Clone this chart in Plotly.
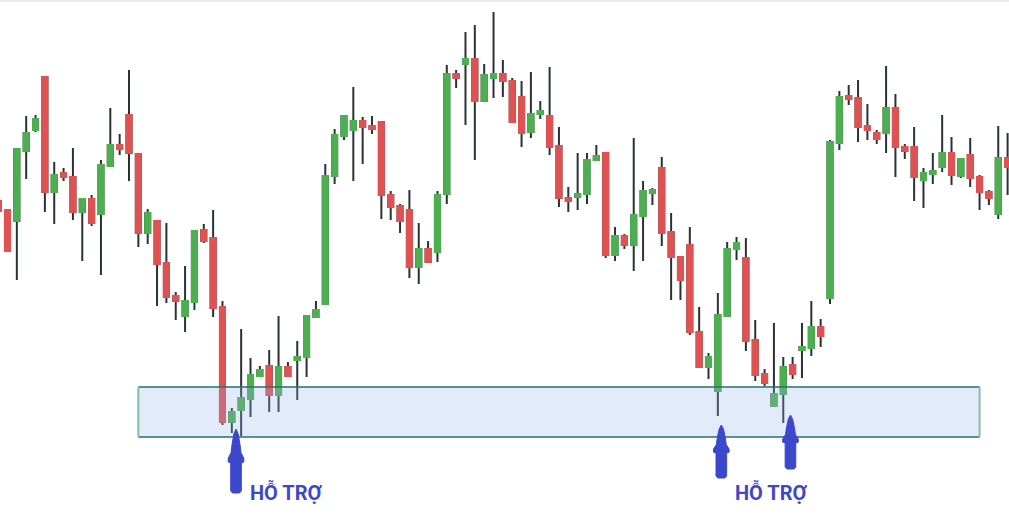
import plotly.graph_objects as go

# ---- data (price units) ----
candle_index = list(range(109))
open_ = [323, 314, 303, 373, 394, 447, 332, 351, 347, 312, 325, 310, 358, 379, 409, 370, 291, 303, 261, 228,
         208, 222, 294, 286, 217, 102, 114, 125, 148, 158, 129, 157, 164, 167, 207, 220, 348, 388, 394, 403,
         398, 402, 329, 318, 314, 257, 275, 272, 330, 450, 460, 465, 423, 446, 450, 443, 427, 392, 410, 408,
         378, 326, 327, 330, 364, 371, 269, 288, 279, 308, 331, 356, 292, 267, 279, 192, 157, 133, 208, 275,
         266, 184, 150, 118, 130, 159, 174, 176, 197, 226, 381, 428, 426, 398, 391, 391, 416, 377, 377, 344,
         350, 357, 371, 348, 369, 347, 332, 310, 366]
high = [323, 314, 376, 408, 409, 447, 362, 356, 376, 326, 329, 364, 416, 390, 454, 371, 315, 303, 301, 232,
        258, 294, 300, 314, 223, 116, 195, 166, 158, 174, 208, 162, 183, 208, 223, 360, 395, 409, 437, 407,
        408, 402, 333, 320, 334, 301, 283, 333, 459, 454, 492, 499, 460, 512, 464, 446, 443, 452, 423, 457,
        397, 337, 371, 371, 379, 371, 297, 290, 386, 343, 336, 367, 311, 268, 297, 217, 171, 231, 282, 287,
        286, 204, 155, 201, 167, 167, 201, 223, 205, 384, 433, 439, 444, 420, 394, 458, 430, 380, 397, 356,
        371, 409, 387, 365, 386, 349, 334, 398, 391]
low = [312, 273, 244, 345, 392, 312, 300, 343, 304, 263, 298, 249, 357, 369, 343, 277, 280, 218, 221, 204,
       192, 214, 281, 207, 99, 91, 88, 107, 147, 112, 112, 147, 124, 147, 207, 220, 340, 384, 343, 360,
       390, 305, 304, 291, 246, 240, 262, 262, 320, 436, 399, 364, 423, 426, 427, 401, 377, 386, 405, 369,
       317, 312, 314, 320, 364, 266, 263, 275, 253, 263, 319, 278, 224, 224, 189, 157, 145, 108, 207, 264,
       173, 143, 138, 118, 101, 145, 146, 168, 177, 220, 374, 419, 382, 384, 380, 371, 347, 365, 323, 316,
       340, 352, 339, 346, 337, 314, 319, 305, 329]
close = [313, 273, 375, 391, 405, 332, 349, 347, 312, 325, 301, 359, 379, 375, 371, 291, 311, 260, 227, 223,
         223, 293, 283, 216, 102, 112, 126, 149, 154, 129, 157, 148, 167, 208, 214, 348, 389, 408, 403, 397,
         395, 329, 317, 303, 257, 275, 262, 329, 450, 446, 465, 423, 449, 450, 443, 402, 391, 410, 413, 377,
         326, 323, 330, 364, 368, 269, 288, 279, 309, 333, 334, 291, 267, 244, 192, 157, 167, 209, 275, 281,
         183, 149, 141, 130, 157, 150, 177, 197, 188, 382, 427, 425, 397, 394, 385, 416, 377, 373, 347, 351,
         353, 371, 349, 365, 346, 332, 326, 366, 357]

support_zone_low = 87
support_zone_high = 137
support_zone_start = 15
support_zone_end = 105

support_label = "HỖ TRỢ"
arrow_x = [25.45, 77.37, 84.77]
arrow_tip = [95, 99, 109]
arrow_len = [64, 53, 54]
arrow_head = [34, 28, 28]
label_x = [30.8, 82.7]
label_y = 32.5

# ---- styling ----
UP = "#4caf50"
DOWN = "#e05252"
WICK = "#2b3236"
BLUE = "#3d47cb"
PX_PER_IDX = 9.347
X_RANGE = [0.198, 108.15]

body_hi = [max(o, c) for o, c in zip(open_, close)]
body_lo = [min(o, c) for o, c in zip(open_, close)]

fig = go.Figure()
# wicks (and body outline, covered afterwards)
fig.add_trace(go.Candlestick(
    x=candle_index, open=open_, high=high, low=low, close=close,
    increasing=dict(line=dict(color=WICK, width=2), fillcolor=WICK),
    decreasing=dict(line=dict(color=WICK, width=2), fillcolor=WICK),
    hoverinfo="skip", showlegend=False,
))
# coloured bodies
fig.add_trace(go.Candlestick(
    x=candle_index, open=open_, high=body_hi, low=body_lo, close=close,
    increasing=dict(line=dict(color=UP, width=2), fillcolor=UP),
    decreasing=dict(line=dict(color=DOWN, width=2), fillcolor=DOWN),
    showlegend=False,
))

shapes = []
# top hairline
shapes.append(dict(type="line", xref="paper", yref="paper", x0=0, x1=1, y0=0.998, y1=0.998,
                   line=dict(color="#ececec", width=2)))
# support zone
shapes.append(dict(type="rect", xref="x", yref="y", x0=support_zone_start, x1=support_zone_end,
                   y0=support_zone_low, y1=support_zone_high, layer="above",
                   fillcolor="rgba(147,178,236,0.26)", line=dict(width=0)))
for yv in (support_zone_low, support_zone_high):
    shapes.append(dict(type="line", xref="x", yref="y", x0=support_zone_start, x1=support_zone_end,
                       y0=yv, y1=yv, layer="above", line=dict(color="#22706c", width=1.6)))
for xv in (support_zone_start, support_zone_end):
    shapes.append(dict(type="line", xref="x", yref="y", x0=xv, x1=xv,
                       y0=support_zone_low, y1=support_zone_high, layer="above",
                       line=dict(color="#7fbcb8", width=2)))


def arrow_path(xc, ytip, length, head):
    hw_shaft = 5.3
    hw_sh = 7.8
    prof = [(0, 0), (2.2, 0.15 * head), (3.8, 0.42 * head), (5.0, 0.7 * head),
            (hw_sh, 0.86 * head), (hw_sh, 0.97 * head), (hw_shaft, head),
            (hw_shaft, length - 2), (3.5, length)]
    right = [(xc + dx / PX_PER_IDX, ytip - dy) for dx, dy in prof]
    left = [(xc - dx / PX_PER_IDX, ytip - dy) for dx, dy in reversed(prof[1:])]
    pts = right + left
    return "M" + " L".join(f"{x:.4f},{y:.2f}" for x, y in pts) + " Z"


for xc, yt, ln, hd in zip(arrow_x, arrow_tip, arrow_len, arrow_head):
    shapes.append(dict(type="path", xref="x", yref="y", path=arrow_path(xc, yt, ln, hd),
                       fillcolor=BLUE, line=dict(color=BLUE, width=1), layer="above"))

annotations = [dict(x=lx, y=label_y, xref="x", yref="y", text=support_label, showarrow=False,
                    font=dict(family="Roboto, sans-serif", size=20,
                              color=BLUE, weight="bold"),
                    xanchor="center", yanchor="middle") for lx in label_x]

fig.update_layout(
    width=1009, height=524,
    margin=dict(l=0, r=0, t=0, b=0),
    paper_bgcolor="white", plot_bgcolor="white",
    xaxis=dict(range=X_RANGE, visible=False, rangeslider=dict(visible=False), fixedrange=True),
    yaxis=dict(range=[0, 524], visible=False, fixedrange=True),
    boxgap=0.46, boxgroupgap=0,
    shapes=shapes, annotations=annotations,
    showlegend=False,
)

fig.write_html("out.html", config={"displayModeBar": False},
               post_script="document.body.style.margin='0';document.body.style.overflow='hidden';")
